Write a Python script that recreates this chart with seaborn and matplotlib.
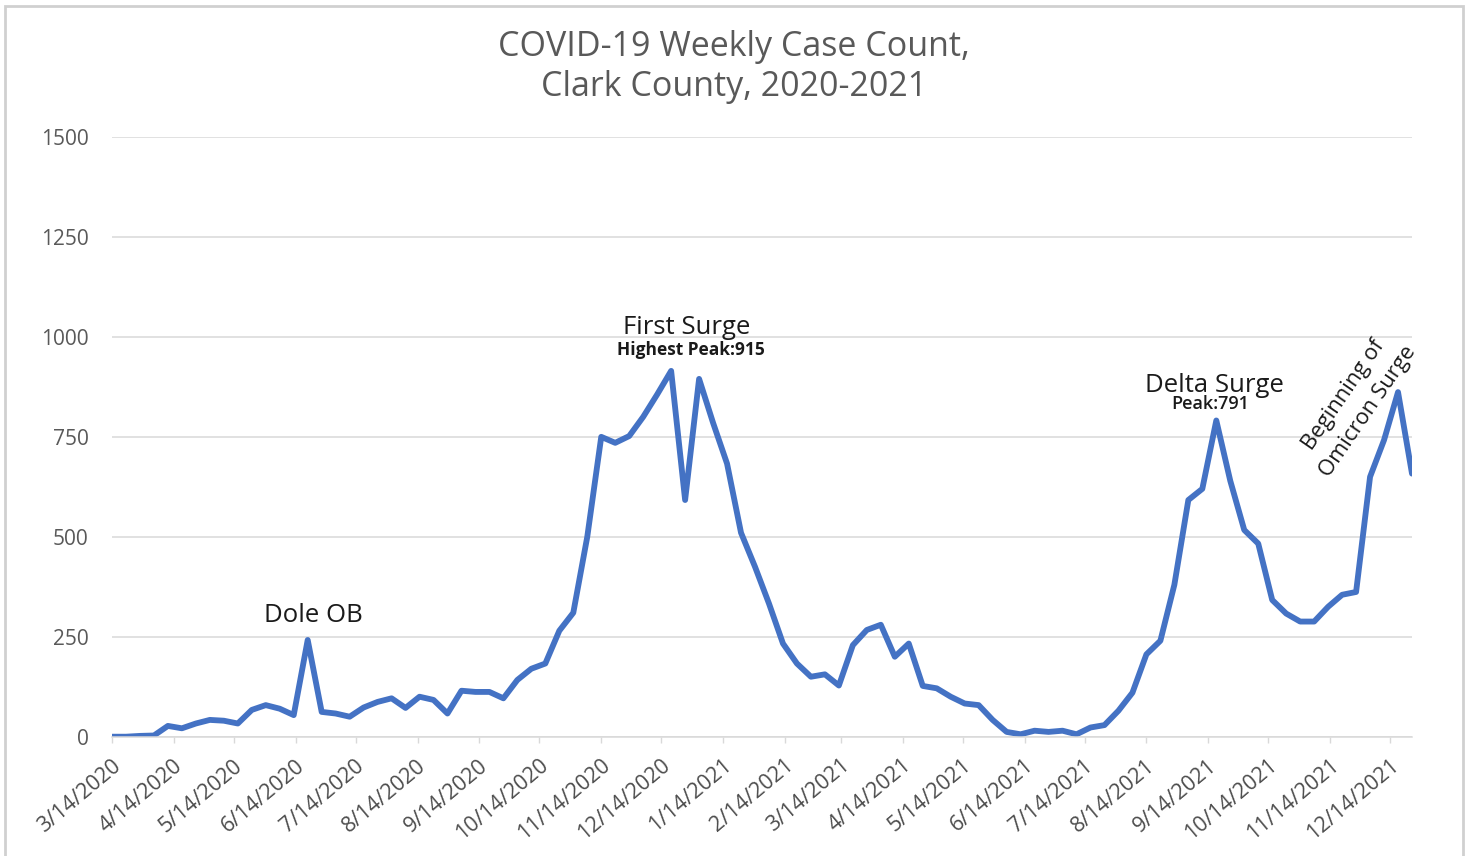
import numpy as np
import pandas as pd
import matplotlib
matplotlib.use("Agg")
import matplotlib.pyplot as plt
import matplotlib.dates as mdates
import matplotlib.transforms as mtransforms
from matplotlib.patches import Rectangle
import seaborn as sns

# Weekly reported COVID-19 cases, Clark County (weeks starting 3/14/2020)
week_start = "2020-03-14"
weekly_cases = [
    0, 0, 2, 3, 27, 21, 33, 42, 40, 33,
    67, 79, 70, 54, 242, 62, 58, 50, 73, 87,
    96, 72, 100, 92, 58, 115, 112, 112, 96, 142,
    170, 183, 265, 310, 500, 750, 735, 752, 800, 856,
    915, 592, 895, 785, 683, 510, 425, 333, 233, 183,
    150, 156, 128, 229, 267, 280, 200, 233, 127, 121,
    100, 83, 79, 42, 12, 6, 15, 12, 15, 6,
    23, 29, 65, 110, 206, 240, 380, 592, 620, 791,
    640, 517, 483, 342, 308, 288, 288, 325, 355, 362,
    650, 742, 862, 658,
]

tick_dates = [
    "2020-03-14", "2020-04-14", "2020-05-14", "2020-06-14", "2020-07-14",
    "2020-08-14", "2020-09-14", "2020-10-14", "2020-11-14", "2020-12-14",
    "2021-01-14", "2021-02-14", "2021-03-14", "2021-04-14", "2021-05-14",
    "2021-06-14", "2021-07-14", "2021-08-14", "2021-09-14", "2021-10-14",
    "2021-11-14", "2021-12-14",
]
tick_labels = [
    "3/14/2020", "4/14/2020", "5/14/2020", "6/14/2020", "7/14/2020",
    "8/14/2020", "9/14/2020", "10/14/2020", "11/14/2020", "12/14/2020",
    "1/14/2021", "2/14/2021", "3/14/2021", "4/14/2021", "5/14/2021",
    "6/14/2021", "7/14/2021", "8/14/2021", "9/14/2021", "10/14/2021",
    "11/14/2021", "12/14/2021",
]
y_ticks = [0, 250, 500, 750, 1000, 1250, 1500]

# Annotations: (text, date, y, size, weight)
annotations = [
    ("Dole OB", "2020-06-23", 304, 18.5, "normal"),
    ("First Surge", "2020-12-27", 1024, 18.5, "normal"),
    ("Highest Peak:915", "2020-12-29", 967, 12.5, "bold"),
    ("Delta Surge", "2021-09-17", 879, 18.5, "normal"),
    ("Peak:791", "2021-09-15", 832, 13, "semibold"),
]
omicron_label = ("Beginning of\nOmicron Surge", "2021-11-27", 834)

df = pd.DataFrame({
    "week": pd.date_range(week_start, periods=len(weekly_cases), freq="7D"),
    "cases": weekly_cases,
})

sns.set_theme(style="white")
plt.rcParams["font.family"] = ["Open Sans", "DejaVu Sans"]

grey_text = "#595959"
grid_grey = "#D9D9D9"
line_blue = "#4472C4"

fig = plt.figure(figsize=(14.68, 8.56), dpi=100)
W, H = 1468, 856
ax = fig.add_axes([112 / W, (H - 736.7) / H, 1300 / W, 599.7 / H])

sns.lineplot(data=df, x="week", y="cases", ax=ax, color=line_blue,
             linewidth=4.2, solid_joinstyle="round", solid_capstyle="round")

ax.set_xlim(df["week"].iloc[0], df["week"].iloc[-1])
ax.set_ylim(0, 1500)
ax.set_yticks(y_ticks)
ax.set_yticklabels([str(v) for v in y_ticks])
ax.set_xticks(pd.to_datetime(tick_dates))
ax.set_xticklabels(tick_labels, rotation=40, ha="right", va="center",
                   rotation_mode="anchor")
ax.set_xlabel("")
ax.set_ylabel("")

ax.yaxis.grid(True, color=grid_grey, linewidth=1.1)
ax.xaxis.grid(False)
for side in ("top", "right", "left"):
    ax.spines[side].set_visible(False)
ax.spines["bottom"].set_color(grid_grey)
ax.spines["bottom"].set_linewidth(1.1)
ax.set_axisbelow(True)

ax.tick_params(axis="y", length=0, pad=17, labelsize=15, labelcolor=grey_text)
ax.tick_params(axis="x", length=4, width=1, color=grid_grey, pad=15,
               labelsize=15.5, labelcolor="#4d4d4d", direction="out", bottom=True)

# nudge rotated date labels so their upper end sits just right of each tick
shift = mtransforms.ScaledTranslation(6 / 100, 0, fig.dpi_scale_trans)
for lbl in ax.get_xticklabels():
    lbl.set_transform(lbl.get_transform() + shift)

for text, date, yv, size, weight in annotations:
    ax.text(mdates.date2num(pd.Timestamp(date)), yv, text, fontsize=size,
            fontweight=weight, color="#1a1a1a", ha="center", va="center",
            clip_on=False)

txt, date, yv = omicron_label
ax.text(mdates.date2num(pd.Timestamp(date)), yv, txt, fontsize=15.8,
        color="#1a1a1a", ha="center", va="center", rotation=55.5,
        multialignment="center", linespacing=1.55, clip_on=False)

fig.text(734 / W, 1 - 67 / H, "COVID-19 Weekly Case Count,\nClark County, 2020-2021",
         ha="center", va="center", fontsize=24.5, color=grey_text, linespacing=1.2)

# Chart frame
fig.patches.append(Rectangle((5 / W, -0.05), 1458 / W, 1.05 - 6 / H,
                             transform=fig.transFigure, fill=False,
                             edgecolor="#D0D0D0", linewidth=2))

fig.savefig("out.png", dpi=100, facecolor="white")
